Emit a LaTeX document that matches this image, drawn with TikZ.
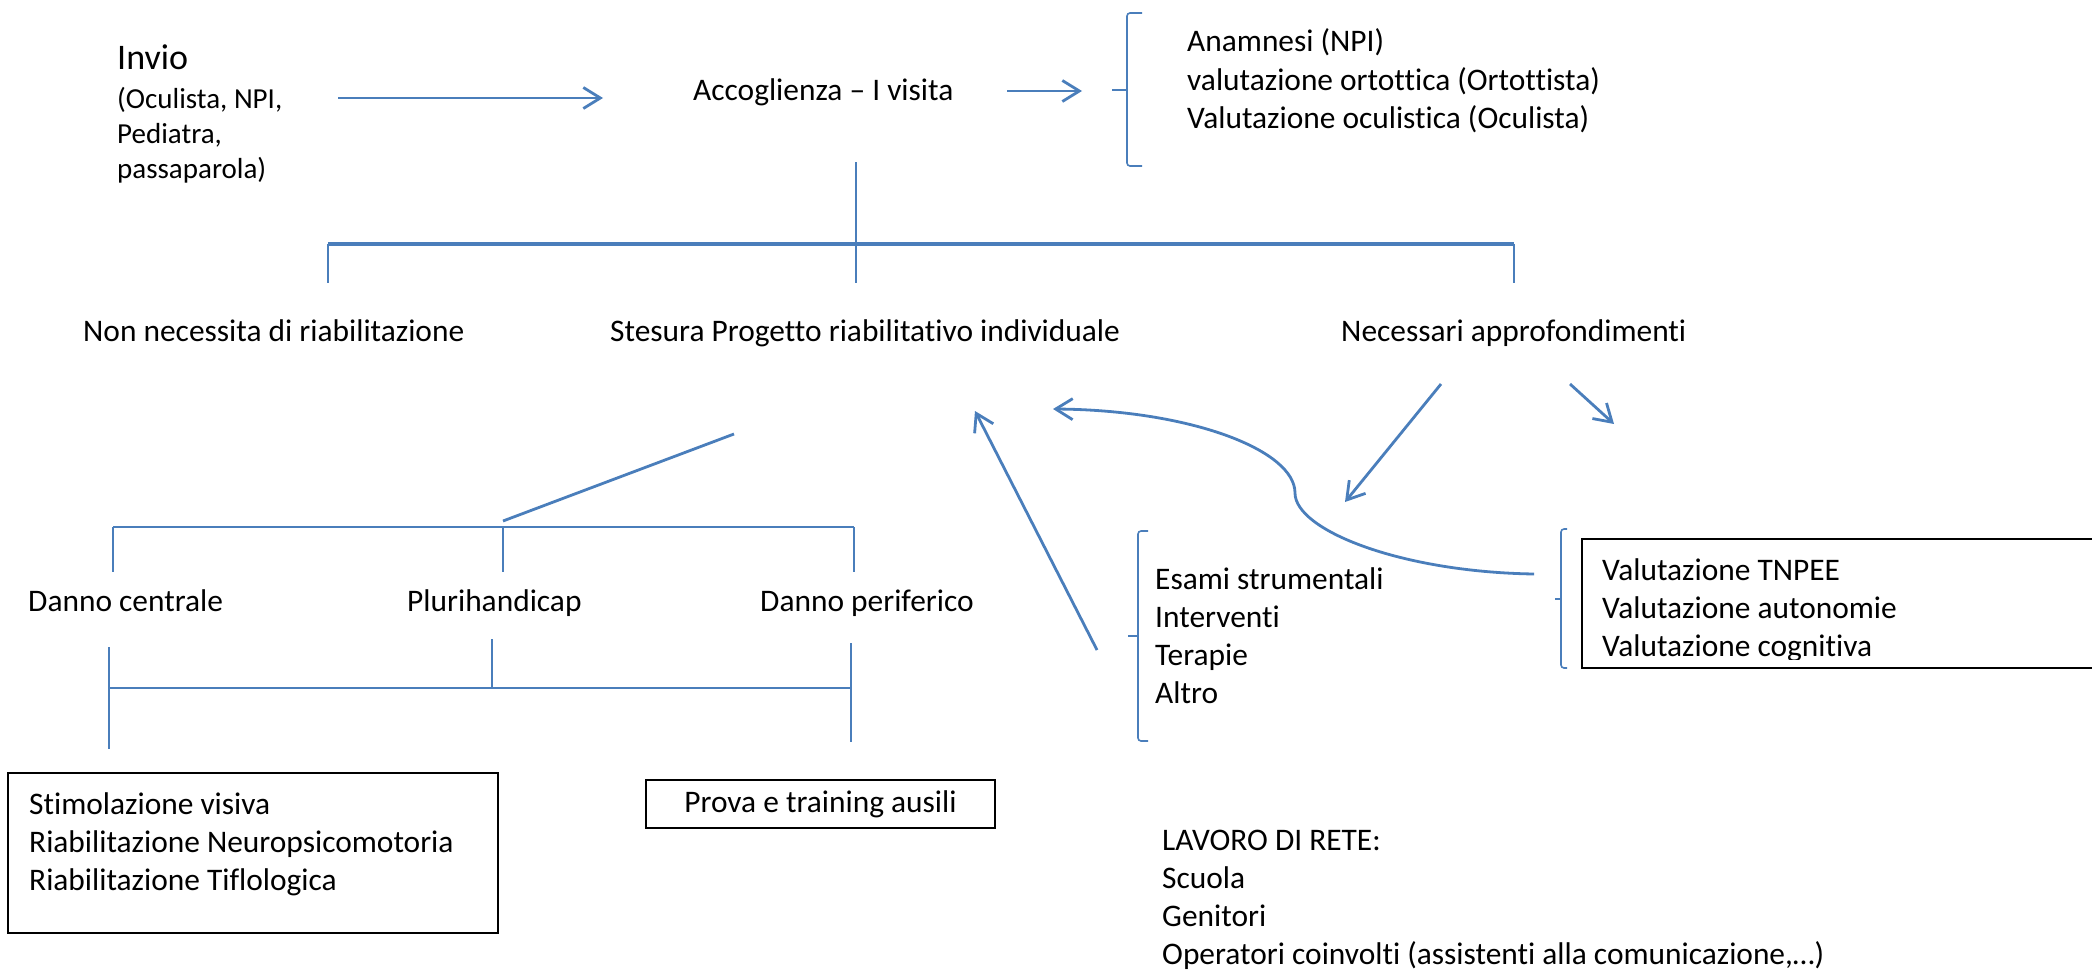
\documentclass[tikz,border=0pt]{standalone}
\usepackage{fontspec}
\setmainfont{Carlito}[Ligatures=NoCommon]
\usetikzlibrary{arrows.meta}
\definecolor{linkblue}{RGB}{74,126,187}

\tikzset{
  txt/.style={anchor=base west, inner sep=0pt, align=left, font=\fontsize{31.4}{38.3}\selectfont},
  link/.style={draw=linkblue, line width=2.8pt},
  arr/.style={link, -{Straight Barb[length=17pt,width=21pt]}},
  brace/.style={draw=linkblue, line width=1.6pt, rounded corners=3pt},
  framebox/.style={draw=black, line width=2pt},
}

\begin{document}
\begin{tikzpicture}[x=1pt, y=-1pt]
    \useasboundingbox (0,0) rectangle (2092,971);
    \clip (0,0) rectangle (2092,971);

    % Invio and first visit (multi-line nodes sit on their last baseline)
    \node[txt, font=\fontsize{36}{43}\selectfont] (invio) at (117,70) {Invio};
    \node[txt, font=\fontsize{29}{35}\selectfont] (invsrc) at (117,178) {(Oculista, NPI,\\Pediatra,\\passaparola)};
    \node[txt] (accog) at (693,101) {Accoglienza – I visita};
    \node[txt] (anamn) at (1187,128.6) {Anamnesi (NPI)\\valutazione ortottica (Ortottista)\\Valutazione oculistica (Oculista)};

    \coordinate (invout) at (338,98);
    \coordinate (accin) at (603,98);
    \coordinate (accout) at (1007,91);
    \coordinate (bracein) at (1082,91);
    \draw[arr] (invout) -- (accin);
    \draw[arr] (accout) -- (bracein);

    % Brackets
    \foreach \bx/\bt/\bm/\bb/\bw in {1127/13/90/166/15, 1138/531/636/741/10, 1561/529/599/668/6}
      \draw[brace] (\bx+\bw,\bt) -- (\bx,\bt) -- (\bx,\bb) -- (\bx+\bw,\bb)
                   (\bx,\bm) -- (\bx-\bw,\bm);

    % First split
    \coordinate (accdown) at (856,162);
    \coordinate (split) at (856,244);
    \draw[link] (accdown) -- (split);
    \draw[draw=linkblue, line width=4.5pt] (328,244) -- (1514,244);
    \foreach \sx in {328,856,1514}
      \draw[link] (\sx,244) -- (\sx,283);

    \node[txt] (nonriab) at (83,341) {Non necessita di riabilitazione};
    \node[txt] (stesura) at (610,341) {Stesura Progetto riabilitativo individuale};
    \node[txt] (necess) at (1341,341) {Necessari approfondimenti};

    % Further checks
    \coordinate (necl) at (1441,384);
    \coordinate (esamtip) at (1345,502);
    \coordinate (necr) at (1570,384);
    \coordinate (valtip) at (1614,424);
    \draw[arr] (necl) -- (esamtip);
    \draw[arr] (necr) -- (valtip);

    \node[txt] (esami) at (1155,703.9) {Esami strumentali\\Interventi\\Terapie\\Altro};
    \draw[framebox] (1582,539) rectangle (2110,668);
    \begin{scope}
      \clip (1582,539) rectangle (2092,659);
      \node[txt] (valut) at (1602,656.6) {Valutazione TNPEE\\Valutazione autonomie\\Valutazione cognitiva};
    \end{scope}

    % Back to the project
    \coordinate (valback) at (1534,574);
    \coordinate (projr) at (1053,409);
    \draw[arr] (valback) .. controls (1400,572) and (1295,530) .. (1295,493)
               .. controls (1295,450) and (1190,410) .. (projr);
    \coordinate (esamback) at (1097,650);
    \coordinate (projl) at (975,411);
    \draw[arr] (esamback) -- (projl);

    % Damage types
    \coordinate (projdown) at (734,434);
    \coordinate (dsplit) at (503,521);
    \draw[link] (projdown) -- (dsplit);
    \draw[link] (113,527) -- (854,527);
    \foreach \dx in {113,503,854}
      \draw[link] (\dx,527) -- (\dx,572);

    \node[txt] (dcentr) at (28,611) {Danno centrale};
    \node[txt] (pluri) at (407,611) {Plurihandicap};
    \node[txt] (dperif) at (760,611) {Danno periferico};

    \draw[link] (109,688) -- (851,688);
    \draw[link] (109,647) -- (109,749);
    \draw[link] (492,639) -- (492,688);
    \draw[link] (851,643) -- (851,742);

    % Interventions
    \draw[framebox] (8,773) rectangle (498,933);
    \node[txt] (stimol) at (29,890.6) {Stimolazione visiva\\Riabilitazione Neuropsicomotoria\\Riabilitazione Tiflologica};
    \node[framebox, inner sep=0pt, minimum width=349pt, minimum height=48pt,
          font=\fontsize{31.4}{38.3}\selectfont] (ausili) at (820.5,804) {Prova e training ausili};

    \node[txt] (rete) at (1162,964.9) {LAVORO DI RETE:\\Scuola\\Genitori\\Operatori coinvolti (assistenti alla comunicazione,…)};

\end{tikzpicture}
\end{document}
